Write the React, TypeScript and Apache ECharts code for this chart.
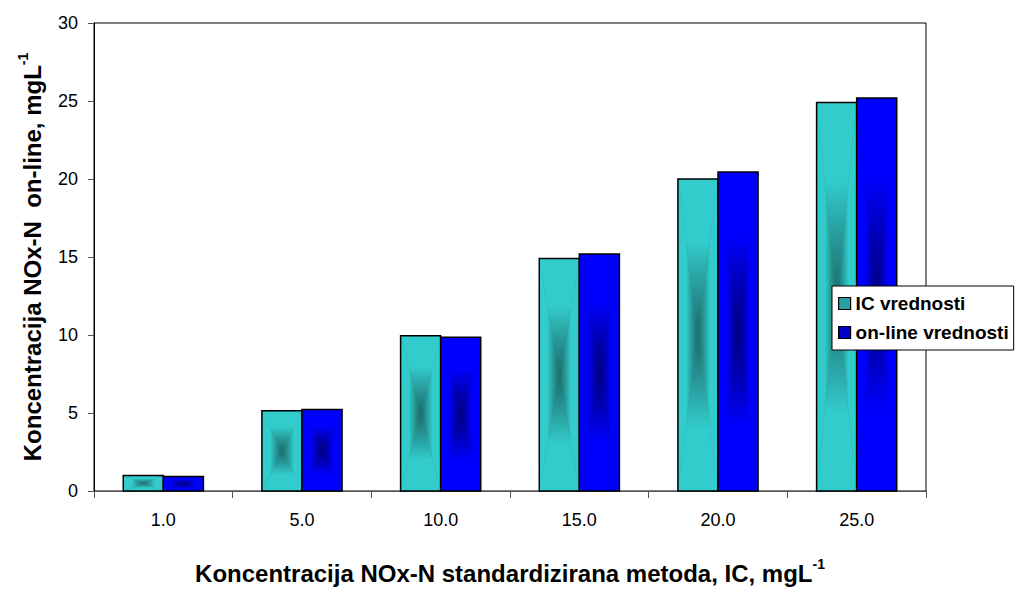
import React, { useEffect, useRef } from "react";
import * as echarts from "echarts";

const categories = ["1.0", "5.0", "10.0", "15.0", "20.0", "25.0"];
const icValues = [1.0, 5.14, 9.95, 14.9, 20.0, 24.9];
const onlineValues = [0.93, 5.22, 9.85, 15.2, 20.45, 25.2];
const seriesNames = ["IC vrednosti", "on-line vrednosti"];
const yTicks = { min: 0, max: 30, interval: 5 };

const FONT = 'Arial, "Liberation Sans", sans-serif';
const BAR_FRAC = 0.289;

const palettes = [
  { icon: "#2A9F9F", stops: ["#33CCCC", "#33CCCC", "#279595", "#1A6A6A"] },
  { icon: "#0000C8", stops: ["#0000FF", "#0000FF", "#0000B4", "#000080"] },
];

function grad(x: number, y: number, x2: number, y2: number, stops: string[]) {
  return new echarts.graphic.LinearGradient(x, y, x2, y2, [
    { offset: 0, color: stops[0] },
    { offset: 0.4, color: stops[1] },
    { offset: 0.72, color: stops[2] },
    { offset: 1, color: stops[3] },
  ]);
}

function makeRender(sIdx: number) {
  const pal = palettes[sIdx];
  return (params: any, api: any) => {
    const idx = api.value(0);
    const val = api.value(1);
    const base = api.coord([idx, 0]);
    const top = api.coord([idx, val]);
    const catW = api.size([1, 0])[0];
    const bw = catW * BAR_FRAC;
    const x0 = base[0] - bw + sIdx * bw;
    const x1 = x0 + bw;
    const y0 = top[1];
    const y1 = base[1];
    const cx = (x0 + x1) / 2;
    const cy = (y0 + y1) / 2;
    const s = pal.stops;
    return {
      type: "group",
      children: [
        { type: "rect", shape: { x: x0, y: y0, width: bw, height: y1 - y0 }, style: { fill: s[2] } },
        { type: "polygon", shape: { points: [[x0, y0], [cx, cy], [x0, y1]] }, style: { fill: grad(0, 0, 1, 0, s) } },
        { type: "polygon", shape: { points: [[x1, y0], [cx, cy], [x1, y1]] }, style: { fill: grad(1, 0, 0, 0, s) } },
        { type: "polygon", shape: { points: [[x0, y0], [x1, y0], [cx, cy]] }, style: { fill: grad(0, 0, 0, 1, s) } },
        { type: "polygon", shape: { points: [[x0, y1], [x1, y1], [cx, cy]] }, style: { fill: grad(0, 1, 0, 0, s) } },
        { type: "rect", shape: { x: x0, y: y0, width: bw, height: y1 - y0 }, style: { fill: "none", stroke: "#000", lineWidth: 1.5 } },
      ],
    };
  };
}

const titleRich = {
  t: { fontFamily: FONT, fontWeight: "bold", fontSize: 24, color: "#000", lineHeight: 28, verticalAlign: "bottom" },
  s: { fontFamily: FONT, fontWeight: "bold", fontSize: 14, color: "#000", verticalAlign: "top" },
};

export default function App() {
  const ref = useRef<HTMLDivElement>(null);
  useEffect(() => {
    if (!ref.current) return;
    const chart = echarts.init(ref.current, undefined, { renderer: "svg" });
    const allValues = [icValues, onlineValues];
    chart.setOption({
      animation: false,
      backgroundColor: "#fff",
      grid: {
        left: 94,
        right: 91,
        top: 23,
        bottom: 94,
        show: true,
        borderColor: "#000",
        borderWidth: 1,
        backgroundColor: "transparent",
      },
      legend: {
        orient: "vertical",
        left: 832,
        top: 286,
        data: seriesNames.map((n, i) => ({
          name: n,
          icon: "rect",
          itemStyle: { color: palettes[i].icon, borderColor: "#000", borderWidth: 1.2 },
        })),
        itemWidth: 12,
        itemHeight: 12,
        itemGap: 10,
        padding: [8, 5, 8, 6],
        backgroundColor: "#fff",
        borderColor: "#000",
        borderWidth: 1,
        borderRadius: 0,
        textStyle: { fontFamily: FONT, fontWeight: "bold", fontSize: 19, color: "#000", lineHeight: 19 },
      },
      xAxis: {
        type: "category",
        data: categories,
        name: "{t|Koncentracija NOx-N standardizirana metoda, IC, mgL}{s|-1}",
        nameLocation: "middle",
        nameGap: 66,
        nameTextStyle: { rich: titleRich },
        axisLine: { show: true, lineStyle: { color: "#555", width: 1 } },
        axisTick: { show: true, alignWithLabel: false, length: 7, lineStyle: { color: "#555" } },
        axisLabel: { fontFamily: FONT, fontSize: 18, color: "#000", margin: 20 },
        splitLine: { show: false },
      },
      yAxis: {
        type: "value",
        min: yTicks.min,
        max: yTicks.max,
        interval: yTicks.interval,
        name: "{t|Koncentracija NOx-N  on-line, mgL}{s|-1}",
        nameLocation: "middle",
        nameRotate: 90,
        nameGap: 50,
        nameTextStyle: { rich: titleRich },
        axisLine: { show: true, lineStyle: { color: "#000", width: 1 } },
        axisTick: { show: true, length: 6, lineStyle: { color: "#555" } },
        axisLabel: { fontFamily: FONT, fontSize: 18, color: "#000", margin: 16 },
        splitLine: { show: false },
      },
      series: seriesNames.map((n, i) => ({
        name: n,
        type: "custom",
        renderItem: makeRender(i),
        itemStyle: { color: palettes[i].icon },
        encode: { x: 0, y: 1 },
        data: allValues[i].map((v, k) => [k, v]),
        clip: false,
      })),
    });
    return () => chart.dispose();
  }, []);
  return (
    <div
      ref={ref}
      style={{ position: "absolute", left: 0, top: 0, width: 1017, height: 590 }}
    />
  );
}
